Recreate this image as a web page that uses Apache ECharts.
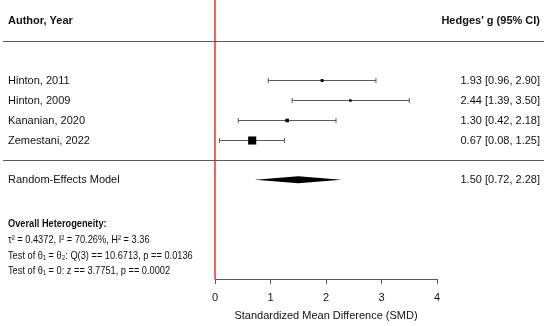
<!DOCTYPE html>
<html>
<head>
<meta charset="utf-8">
<script src="https://cdn.jsdelivr.net/npm/echarts@6/dist/echarts.min.js"></script>
<style>html,body{margin:0;padding:0;background:#fff}#c{width:550px;height:326px}</style>
</head>
<body>
<div id="c"></div>
<script>
// ---- data ----
var studies = ['Hinton, 2011', 'Hinton, 2009', 'Kananian, 2020', 'Zemestani, 2022'];
var estimates = [1.93, 2.44, 1.30, 0.67];
var lower = [0.96, 1.39, 0.42, 0.08];
var upper = [2.90, 3.50, 2.18, 1.25];
var pooledLabel = 'Random-Effects Model';
var pooled = [1.50, 0.72, 2.28]; // est, lo, hi
var xTicks = [0, 1, 2, 3, 4];
var refValue = 0;
var heteroTitle = 'Overall Heterogeneity:';
var heteroLines = [
  'τ² = 0.4372, I² = 70.26%, H² = 3.36',
  'Test of θ₁ = θ₂: Q(3) == 10.6713, p == 0.0136',
  'Test of θ₁ = 0: z == 3.7751, p == 0.0002'
];
var headerLeft = 'Author, Year';
var headerRight = "Hedges' g (95% CI)";
var axisTitle = 'Standardized Mean Difference (SMD)';

function fmt(v){ return v.toFixed(2); }

// ---- layout rows (y axis in row units) ----
var Y_MAX = 14.05;
var rowStart = 4.05, reRow = 9.05, headerRow = 1.05, line1Row = 2.05, line2Row = 8.05;
var FONT = '"Liberation Sans", Arial, Helvetica, sans-serif';
var TXT = '#111';
var LINE = '#5a5a5a';
var RED = '#f03a3a';
var LEFT_X = 8, RIGHT_X = 540, SEP_L = 3, SEP_R = 544;
var HET_Y = [224, 240, 255.5, 271];
var NARROW_SCALE = 0.84;

var studyData = studies.map(function(s, i){
  var w = 1 / Math.pow((upper[i] - lower[i]) / 3.92, 2);
  return [estimates[i], lower[i], upper[i], rowStart + i, w, i];
});

function hetText(txt, y, bold){
  return {type: 'text', x: LEFT_X, y: y, scaleX: NARROW_SCALE,
    style: {text: txt, font: (bold ? 'bold ' : '') + '11px ' + FONT, fill: TXT, textVerticalAlign: 'middle'}};
}

var chart = echarts.init(document.getElementById('c'), null, {renderer: 'canvas'});
chart.setOption({
  animation: false,
  grid: {left: 215, right: 113, top: 0, bottom: 45},
  xAxis: {
    type: 'value', position: 'bottom', min: xTicks[0], max: xTicks[xTicks.length - 1], interval: 1,
    axisLine: {show: true, onZero: false, lineStyle: {color: LINE, width: 1}},
    axisTick: {show: true, inside: false, length: 5, lineStyle: {color: LINE}},
    axisLabel: {color: TXT, fontFamily: FONT, fontSize: 11, margin: 13},
    splitLine: {show: false},
    name: axisTitle, nameLocation: 'middle', nameGap: 31,
    nameTextStyle: {color: TXT, fontFamily: FONT, fontSize: 11}
  },
  yAxis: {type: 'value', min: 0, max: Y_MAX, inverse: true, show: false},
  series: [
    {
      type: 'custom', silent: true, clip: false, z: 1,
      data: [[refValue]],
      renderItem: function(params, api){
        var p0 = api.coord([api.value(0), 0]), p1 = api.coord([api.value(0), Y_MAX]);
        var x = Math.round(p0[0]);
        return {type: 'line', shape: {x1: x, y1: p0[1], x2: x, y2: p1[1]}, style: {stroke: RED, lineWidth: 1.6}};
      }
    },
    {
      type: 'custom', silent: true, clip: false, z: 2,
      data: studyData,
      renderItem: function(params, api){
        var est = api.value(0), lo = api.value(1), hi = api.value(2), row = api.value(3), w = api.value(4);
        var idx = api.value(5);
        var pLo = api.coord([lo, row]), pHi = api.coord([hi, row]), pE = api.coord([est, row]);
        var y = Math.round(pE[1]) + 0.5;
        var sz = Math.max(2.5, 0.72 * w);
        return {type: 'group', children: [
          {type: 'line', shape: {x1: pLo[0], y1: y, x2: pHi[0], y2: y}, style: {stroke: LINE, lineWidth: 1}},
          {type: 'line', shape: {x1: pLo[0], y1: y - 2.5, x2: pLo[0], y2: y + 2.5}, style: {stroke: LINE, lineWidth: 1}},
          {type: 'line', shape: {x1: pHi[0], y1: y - 2.5, x2: pHi[0], y2: y + 2.5}, style: {stroke: LINE, lineWidth: 1}},
          {type: 'rect', shape: {x: pE[0] - sz / 2, y: y - sz / 2, width: sz, height: sz}, style: {fill: '#000'}},
          {type: 'text', x: LEFT_X, y: y, style: {text: studies[idx], font: '11px ' + FONT, fill: TXT, textAlign: 'left', textVerticalAlign: 'middle'}},
          {type: 'text', x: RIGHT_X, y: y, style: {text: fmt(est) + ' [' + fmt(lo) + ', ' + fmt(hi) + ']', font: '11px ' + FONT, fill: TXT, textAlign: 'right', textVerticalAlign: 'middle'}}
        ]};
      }
    },
    {
      type: 'custom', silent: true, clip: false, z: 2,
      data: [[pooled[0], pooled[1], pooled[2], reRow]],
      renderItem: function(params, api){
        var est = api.value(0), lo = api.value(1), hi = api.value(2), row = api.value(3);
        var pLo = api.coord([lo, row]), pHi = api.coord([hi, row]), pE = api.coord([est, row]);
        var y = pE[1];
        return {type: 'group', children: [
          {type: 'polygon', shape: {points: [[pLo[0], y], [pE[0], y - 3.5], [pHi[0], y], [pE[0], y + 3.5]]}, style: {fill: '#000'}},
          {type: 'text', x: LEFT_X, y: y, style: {text: pooledLabel, font: '11px ' + FONT, fill: TXT, textAlign: 'left', textVerticalAlign: 'middle'}},
          {type: 'text', x: RIGHT_X, y: y, style: {text: fmt(est) + ' [' + fmt(lo) + ', ' + fmt(hi) + ']', font: '11px ' + FONT, fill: TXT, textAlign: 'right', textVerticalAlign: 'middle'}}
        ]};
      }
    },
    {
      type: 'custom', silent: true, clip: false, z: 2,
      data: [[0, headerRow]],
      renderItem: function(params, api){
        var yH = Math.round(api.coord([0, headerRow])[1]);
        var y1 = Math.round(api.coord([0, line1Row])[1]) + 0.5;
        var y2 = Math.round(api.coord([0, line2Row])[1]) + 0.5;
        return {type: 'group', children: [
          {type: 'text', x: LEFT_X, y: yH, style: {text: headerLeft, font: 'bold 11px ' + FONT, fill: TXT, textAlign: 'left', textVerticalAlign: 'middle'}},
          {type: 'text', x: RIGHT_X, y: yH, style: {text: headerRight, font: 'bold 11px ' + FONT, fill: TXT, textAlign: 'right', textVerticalAlign: 'middle'}},
          {type: 'line', shape: {x1: SEP_L, y1: y1, x2: SEP_R, y2: y1}, style: {stroke: LINE, lineWidth: 1.2}},
          {type: 'line', shape: {x1: SEP_L, y1: y2, x2: SEP_R, y2: y2}, style: {stroke: LINE, lineWidth: 1.2}}
        ]};
      }
    }
  ],
  graphic: [
    hetText(heteroTitle, HET_Y[0], true),
    hetText(heteroLines[0], HET_Y[1], false),
    hetText(heteroLines[1], HET_Y[2], false),
    hetText(heteroLines[2], HET_Y[3], false)
  ]
});
</script>
</body>
</html>
